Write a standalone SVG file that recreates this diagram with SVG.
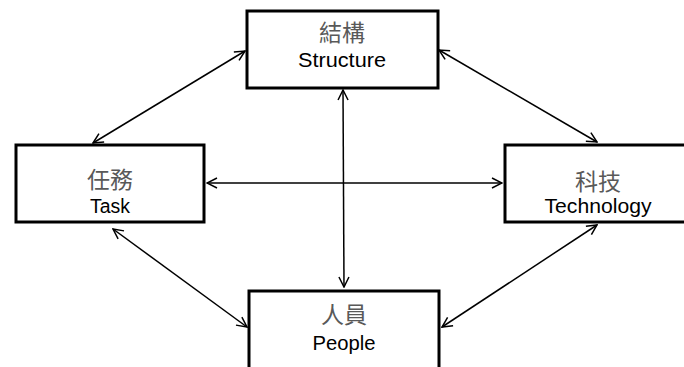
<svg xmlns="http://www.w3.org/2000/svg" width="684" height="367" viewBox="0 0 684 367">
  <style>
    .box { fill: #ffffff; stroke: #000000; stroke-width: 3; }
    .zh { font-family: "Noto Sans CJK TC", "Noto Sans CJK SC", sans-serif; font-size: 23px; fill: #595959; text-anchor: middle; }
    .en { font-family: "Liberation Sans", Arial, sans-serif; font-size: 20px; fill: #000000; text-anchor: middle; }
    .link { stroke: #000000; stroke-width: 1.5; fill: none; marker-start: url(#arr); marker-end: url(#arr); }
  </style>
  <defs>
    <marker id="arr" viewBox="0 0 12 12" refX="11" refY="6" markerWidth="12" markerHeight="12" markerUnits="userSpaceOnUse" orient="auto-start-reverse">
      <path d="M1,1 L11,6 L1,11" fill="none" stroke="#000000" stroke-width="1.5"/>
    </marker>
  </defs>
  <rect width="684" height="367" fill="#ffffff"/>
  <g id="connectors">
    <line class="link" x1="245" y1="51" x2="93" y2="143"/>
    <line class="link" x1="439" y1="50" x2="597" y2="142"/>
    <line class="link" x1="207" y1="183" x2="502" y2="183"/>
    <line class="link" x1="343" y1="90" x2="344" y2="287"/>
    <line class="link" x1="113" y1="229" x2="247" y2="327"/>
    <line class="link" x1="597" y1="225" x2="442" y2="327"/>
  </g>
  <g id="structure">
    <rect class="box" x="247" y="11" width="191" height="77"/>
    <text class="zh" x="342" y="41">結構</text>
    <text class="en" x="342" y="67" textLength="88" lengthAdjust="spacingAndGlyphs">Structure</text>
  </g>
  <g id="task">
    <rect class="box" x="16" y="145" width="188" height="77"/>
    <text class="zh" x="110" y="188">任務</text>
    <text class="en" x="110" y="213" textLength="40" lengthAdjust="spacingAndGlyphs">Task</text>
  </g>
  <g id="technology">
    <rect class="box" x="505" y="145" width="190" height="77"/>
    <text class="zh" x="598" y="190">科技</text>
    <text class="en" x="598" y="213" textLength="107" lengthAdjust="spacingAndGlyphs">Technology</text>
  </g>
  <g id="people">
    <rect class="box" x="249" y="291" width="190" height="80"/>
    <text class="zh" x="344" y="323">人員</text>
    <text class="en" x="344" y="350" textLength="63" lengthAdjust="spacingAndGlyphs">People</text>
  </g>
</svg>
